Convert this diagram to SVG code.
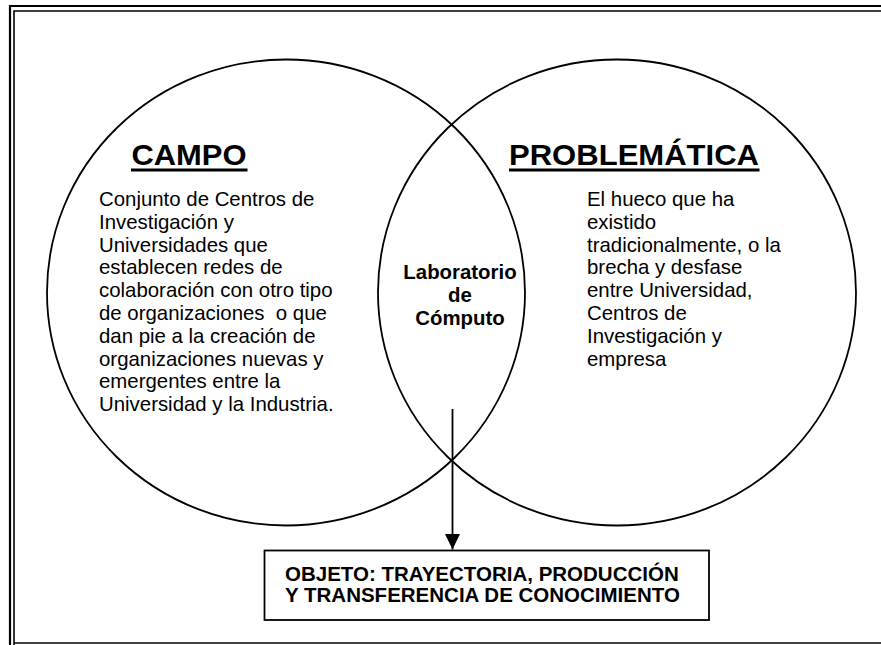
<svg xmlns="http://www.w3.org/2000/svg" width="881" height="645" viewBox="0 0 881 645">
<style>
.frame{fill:none;stroke:#000}
.circ{fill:none;stroke:#000;stroke-width:1.8}
.head{font-family:"Liberation Sans",Arial,sans-serif;font-weight:bold;font-size:30px;fill:#000}
.body{font-family:"Liberation Sans",Arial,sans-serif;font-size:20.4px;fill:#000;white-space:pre}
.lab{font-family:"Liberation Sans",Arial,sans-serif;font-weight:bold;font-size:20.4px;fill:#000;text-anchor:middle}
.box{fill:#fff;stroke:#000;stroke-width:1.8}
.boxt{font-family:"Liberation Sans",Arial,sans-serif;font-weight:bold;font-size:20.5px;fill:#000}
.ul{stroke:#000;stroke-width:3}
.conn{stroke:#000;stroke-width:1.8;fill:none}
</style>
<defs>
<marker id="arrow" markerWidth="16" markerHeight="16" refX="15.5" refY="8" orient="auto" markerUnits="userSpaceOnUse" viewBox="0 0 16 16">
<path d="M0,0.5 L0,15.5 L15.5,8 Z" fill="#000"/>
</marker>
</defs>
<rect width="881" height="645" fill="#fff"/>
<g id="frame">
<path class="frame" stroke-width="2.2" d="M10,645 V6 H881"/>
<path class="frame" stroke-width="1.6" d="M14,645 V11 H881"/>
<path class="frame" stroke-width="1.6" d="M14,643 H881"/>
</g>
<g id="campo">
<ellipse class="circ" cx="286" cy="292.5" rx="239" ry="233"/>
<text class="head" x="131.5" y="165" textLength="115" lengthAdjust="spacingAndGlyphs">CAMPO</text>
<line class="ul" x1="131" y1="170" x2="247.5" y2="170"/>
<text class="body" x="99" y="206">Conjunto de Centros de</text>
<text class="body" x="99" y="228.8">Investigación y</text>
<text class="body" x="99" y="251.6">Universidades que</text>
<text class="body" x="99" y="274.4">establecen redes de</text>
<text class="body" x="99" y="297.2">colaboración con otro tipo</text>
<text class="body" x="99" y="320">de organizaciones  o que</text>
<text class="body" x="99" y="342.8">dan pie a la creación de</text>
<text class="body" x="99" y="365.6">organizaciones nuevas y</text>
<text class="body" x="99" y="388.4">emergentes entre la</text>
<text class="body" x="99" y="411.2">Universidad y la Industria.</text>
</g>
<g id="problematica">
<ellipse class="circ" cx="617" cy="292.5" rx="239" ry="233"/>
<text class="head" x="509" y="165" textLength="250" lengthAdjust="spacingAndGlyphs">PROBLEMÁTICA</text>
<line class="ul" x1="509" y1="170" x2="759.5" y2="170"/>
<text class="body" x="587" y="206">El hueco que ha</text>
<text class="body" x="587" y="228.8">existido</text>
<text class="body" x="587" y="251.6">tradicionalmente, o la</text>
<text class="body" x="587" y="274.4">brecha y desfase</text>
<text class="body" x="587" y="297.2">entre Universidad,</text>
<text class="body" x="587" y="320">Centros de</text>
<text class="body" x="587" y="342.8">Investigación y</text>
<text class="body" x="587" y="365.6">empresa</text>
</g>
<g id="laboratorio">
<text class="lab" x="460" y="279">Laboratorio</text>
<text class="lab" x="460" y="301.8">de</text>
<text class="lab" x="460" y="324.6">Cómputo</text>
</g>
<g id="objeto">
<rect class="box" x="264.5" y="550.5" width="444.5" height="69.5"/>
<text class="boxt" x="285" y="580.5">OBJETO: TRAYECTORIA, PRODUCCIÓN</text>
<text class="boxt" x="285" y="602">Y TRANSFERENCIA DE CONOCIMIENTO</text>
</g>
<g id="connectors">
<line class="conn" x1="452.5" y1="409" x2="452.5" y2="549.5" marker-end="url(#arrow)"/>
</g>
</svg>
